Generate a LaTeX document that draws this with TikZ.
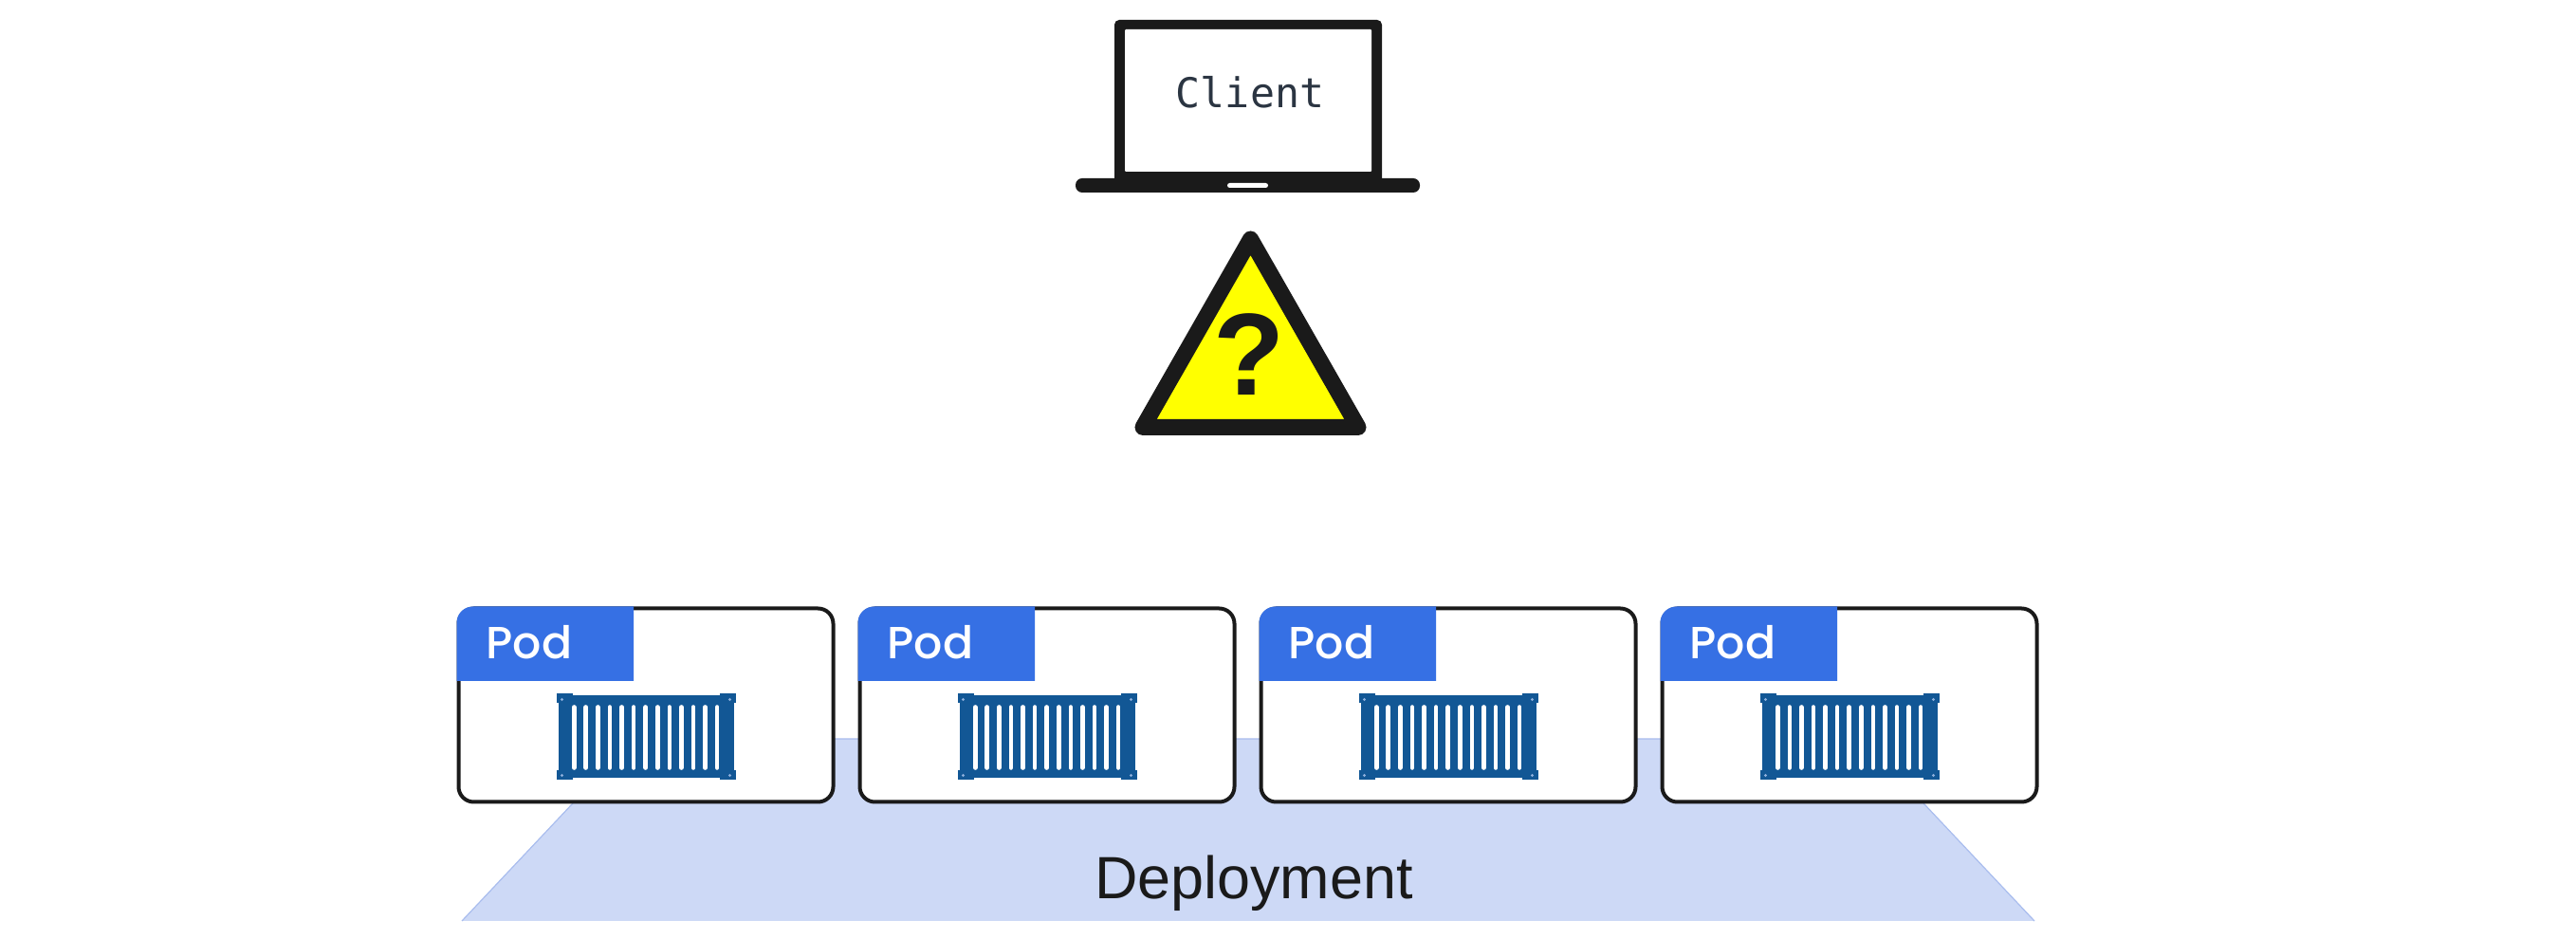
\documentclass[tikz,border=0pt]{standalone}
\usepackage{fontspec}
\setmainfont{Liberation Sans}
\newfontfamily\podfont{Poppins Medium}
\newfontfamily\clientfont{DejaVu Sans Mono}
\definecolor{ink}{HTML}{1A1A1A}
\definecolor{podblue}{HTML}{3670E4}
\definecolor{boxblue}{HTML}{125795}
\definecolor{dotblue}{HTML}{8FB0DC}
\definecolor{deployfill}{HTML}{CDD9F6}
\definecolor{deployline}{HTML}{A9BDEE}
\definecolor{clientink}{HTML}{2B3542}
\definecolor{signyellow}{HTML}{FFFF00}
\tikzset{
    podframe/.style={draw=ink, line width=0.04cm, fill=white, rounded corners=0.16cm},
    podlabel/.style={anchor=base, text=white, font=\podfont\fontsize{13.5}{16}\selectfont, inner sep=0},
    slotline/.style={white, line width=0.046cm, line cap=round},
}
\begin{document}
\begin{tikzpicture}
        \useasboundingbox (0,0) rectangle (27.16,9.90);
        \def\Pw{3.95 } % Pod width
        \def\Ph{2.04 } % Pod height
        \def\Py{1.445 } % Pod lower edge
        \def\Dx{4.23 } % Offset distance between pods

        % Deployment
        \fill[deployfill] (4.87,0.19) -- (6.68,2.11) -- (19.64,2.11) -- (21.45,0.19) -- cycle;
        \draw[deployline, line width=0.012cm] (4.87,0.19) -- (6.68,2.11) -- (19.64,2.11) -- (21.45,0.19);
        \node[anchor=base, font=\fontsize{17.9}{21}\selectfont, text=ink, inner sep=0] (deployment) at (13.22,0.42) {Deployment};

        % Pods
        \foreach \i in {0,...,3} {
            \begin{scope}[shift={(4.835+\i*\Dx,\Py)}]
                \draw[podframe] (0,0) rectangle (\Pw,\Ph); % frame
                \fill[podblue] (-0.02,1.275) [rounded corners=0.17cm] -- (-0.02,\Ph+0.02) [sharp corners] -- (1.845,\Ph+0.02) -- (1.845,1.275) -- cycle; % header
                \node[podlabel] (pod\i) at (0.745,1.505) {Pod};

                % Container
                \fill[boxblue] (1.05,0.25) rectangle (2.90,1.12);
                \foreach \cx in {1.03,2.75} {
                    \foreach \cy in {0.23,1.04} {
                        \fill[boxblue] (\cx,\cy) rectangle ++(0.17,0.1); % corner block
                    }
                }
                \foreach \cx in {1.09,2.86}
                    \foreach \cy in {0.28,1.08}
                        \fill[dotblue] (\cx,\cy) circle (0.016);
                \foreach \s in {0,...,12}
                    \draw[slotline] (1.217+\s*0.1258,0.36) -- (1.217+\s*0.1258,1.00); % slot
            \end{scope}
        }

        % Warning sign
        \draw[fill=signyellow, draw=ink, line join=round, line width=0.17cm] (13.185,7.38) -- (12.05,5.395) -- (14.32,5.395) -- cycle;
        \node[anchor=base, font=\bfseries\fontsize{35}{40}\selectfont, text=ink, inner sep=0] (question) at (13.17,5.73) {?};

        % Laptop
        \fill[ink, rounded corners=0.05cm] (11.75,7.95) rectangle (14.57,9.69);
        \fill[ink, rounded corners=0.07cm] (11.34,7.87) rectangle (14.97,8.02);
        \fill[white, rounded corners=0.01cm] (11.86,8.09) rectangle (14.46,9.59);
        \fill[white, rounded corners=0.025cm] (12.94,7.92) rectangle (13.37,7.97);
        \node[font=\clientfont\fontsize{12.3}{14}\selectfont, text=clientink, inner sep=0] (client) at (13.18,8.93) {Client};
\end{tikzpicture}
\end{document}
